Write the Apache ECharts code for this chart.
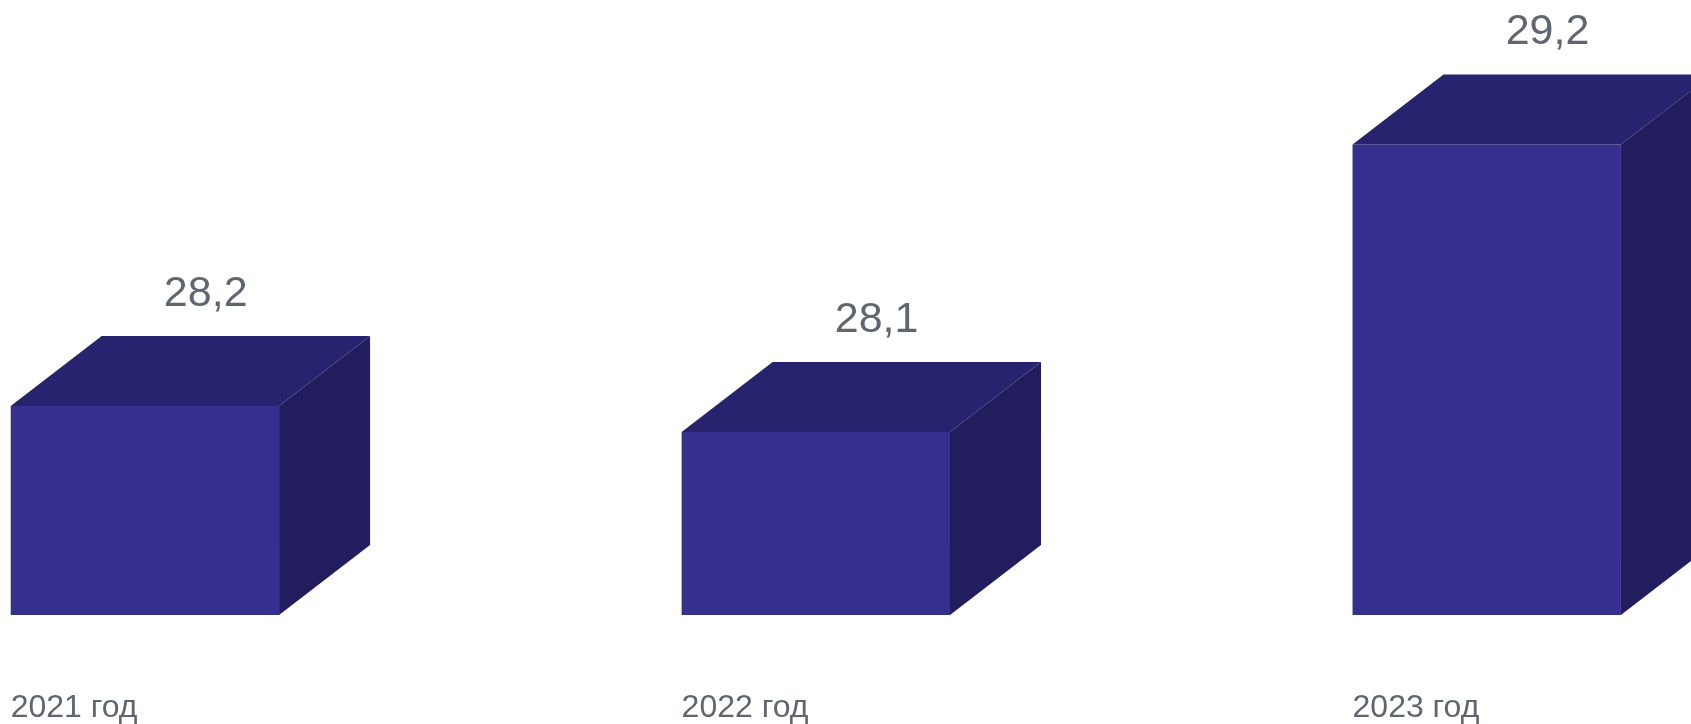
<!DOCTYPE html>
<html>
<head>
<meta charset="utf-8">
<style>html,body{margin:0;padding:0;background:#fff;}#c{width:1691px;height:724px;}</style>
<script src="https://cdn.jsdelivr.net/npm/echarts@6/dist/echarts.min.js"></script>
</head>
<body>
<div id="c"></div>
<script>
const categories = ['2021 год', '2022 год', '2023 год'];
const values = [28.2, 28.1, 29.2];
const valueLabels = ['28,2', '28,1', '29,2'];

const Y_MIN = 27.4;
const BAR_W = 0.4;     // bar front width in x-axis units
const DX = 91, DY = 70; // depth offset in pixels
const FRONT = '#372f8f', TOP = '#28236e', SIDE = '#221e5e';
const TEXT = '#5f6670';

const chart = echarts.init(document.getElementById('c'));
chart.setOption({
  animation: false,
  grid: { left: 10.7, right: 2.8, top: 40, bottom: 105.3 },
  xAxis: {
    type: 'value', min: 0, max: 2.5, interval: 1,
    axisLine: { show: false }, axisTick: { show: false }, splitLine: { show: false },
    axisLabel: {
      margin: 77, align: 'left', color: TEXT,
      fontFamily: 'Liberation Sans, Arial, sans-serif', fontSize: 32,
      formatter: v => Number.isInteger(v) && categories[v] ? categories[v] : ''
    }
  },
  yAxis: { type: 'value', min: Y_MIN, max: 29.6, show: false, splitLine: { show: false } },
  series: [{
    type: 'custom',
    clip: false,
    data: values.map((v, i) => [i, v]),
    renderItem: function (params, api) {
      const i = api.value(0), v = api.value(1);
      const tl = api.coord([i, v]);
      const bl = api.coord([i, Y_MIN]);
      const w = api.size([BAR_W, 0])[0];
      const x0 = tl[0], x1 = tl[0] + w, yt = tl[1], yb = bl[1];
      return {
        type: 'group',
        children: [
          { type: 'polygon', shape: { points: [[x0, yt], [x1, yt], [x1, yb], [x0, yb]] }, style: { fill: FRONT } },
          { type: 'polygon', shape: { points: [[x0, yt], [x0 + DX, yt - DY], [x1 + DX, yt - DY], [x1, yt]] }, style: { fill: TOP } },
          { type: 'polygon', shape: { points: [[x1, yt], [x1 + DX, yt - DY], [x1 + DX, yb - DY], [x1, yb]] }, style: { fill: SIDE } },
          { type: 'text', style: {
              text: valueLabels[params.dataIndex], x: x0 + 195, y: yt - DY - 42,
              align: 'center', verticalAlign: 'middle', fill: TEXT,
              font: '43px "Liberation Sans", Arial, sans-serif'
          } }
        ]
      };
    }
  }]
});
</script>
</body>
</html>
